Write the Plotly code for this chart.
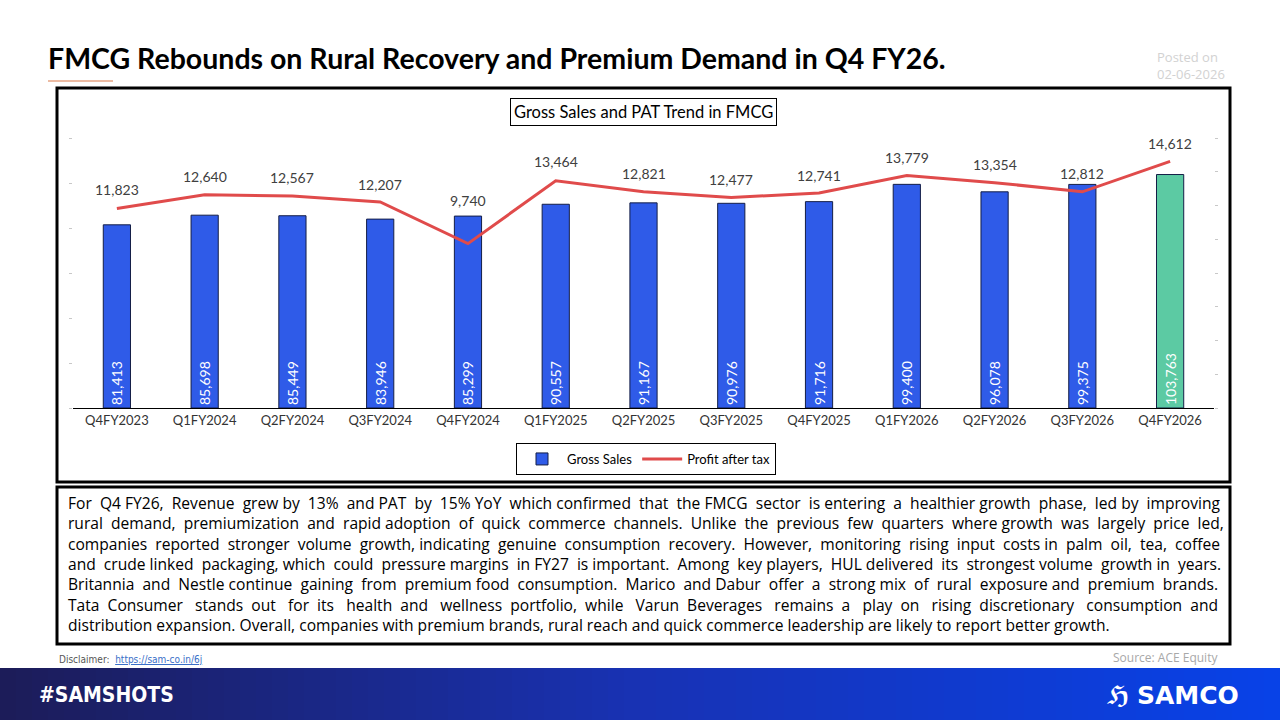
import plotly.graph_objects as go

# ---------------- data ----------------
quarters = ["Q4FY2023", "Q1FY2024", "Q2FY2024", "Q3FY2024", "Q4FY2024", "Q1FY2025",
            "Q2FY2025", "Q3FY2025", "Q4FY2025", "Q1FY2026", "Q2FY2026", "Q3FY2026", "Q4FY2026"]
gross_sales = [81413, 85698, 85449, 83946, 85299, 90557, 91167, 90976, 91716, 99400, 96078, 99375, 103763]
pat = [11823, 12640, 12567, 12207, 9740, 13464, 12821, 12477, 12741, 13779, 13354, 12812, 14612]

title_text = "FMCG Rebounds on Rural Recovery and Premium Demand in Q4 FY26."
chart_title = "Gross Sales and PAT Trend in FMCG"
paragraph_lines = [
    "For Q4 FY26, Revenue grew by 13% and PAT by 15% YoY which confirmed that the FMCG sector is entering a healthier growth phase, led by improving",
    "rural demand, premiumization and rapid adoption of quick commerce channels. Unlike the previous few quarters where growth was largely price led,",
    "companies reported stronger volume growth, indicating genuine consumption recovery. However, monitoring rising input costs in palm oil, tea, coffee",
    "and crude linked packaging, which could pressure margins in FY27 is important. Among key players, HUL delivered its strongest volume growth in years.",
    "Britannia and Nestle continue gaining from premium food consumption. Marico and Dabur offer a strong mix of rural exposure and premium brands.",
    "Tata Consumer stands out for its health and wellness portfolio, while Varun Beverages remains a play on rising discretionary consumption and",
    "distribution expansion. Overall, companies with premium brands, rural reach and quick commerce leadership are likely to report better growth.",
]

# ---------------- styling / layout (pixels) ----------------
W, H = 1280, 720
PL, PR, PT, PB = 73, 1214, 138, 408   # plot area in pixels
# extra room (px) each paragraph line needs to reach the justified right edge
justify_extra_px = [68, 72, 64, 51, 66, 119, 0]
# vertical lift (px) of each PAT label above its point
label_lift = [19, 18, 18, 18, 43, 19, 18, 18, 18, 18, 18, 18, 18]


def px(x):
    return (x - PL) / (PR - PL)


def py(y):
    return (PB - y) / (PB - PT)


def justify(line, extra_px, nbsp_px=4.05):
    words = line.split(" ")
    gaps = len(words) - 1
    n_extra = int(round(extra_px / nbsp_px))
    if gaps <= 0 or n_extra <= 0:
        return line
    out = words[0]
    given = 0
    for i, w in enumerate(words[1:], start=1):
        acc = n_extra * i / gaps
        k = int(round(acc)) - given
        given += k
        out += " " + "\u00a0" * k + w
    return out


FONT = "Lato"
NARROW = "DejaVu Sans Condensed, Liberation Sans Narrow, Roboto Condensed, Roboto, sans-serif"
bar_colors = ["#2f5be8"] * (len(quarters) - 1) + ["#5ccaa3"]

fig = go.Figure()
fig.add_trace(go.Bar(
    x=quarters, y=gross_sales, name="Gross Sales",
    marker=dict(color=bar_colors, line=dict(color="#141e46", width=1)),
    text=[f"{v:,}" for v in gross_sales], textposition="inside",
    insidetextanchor="start", textangle=-90,
    textfont=dict(color="white", size=14, family=FONT),
    width=0.31, yaxis="y",
))
fig.add_trace(go.Scatter(
    x=quarters, y=pat, name="Profit after tax", mode="lines",
    line=dict(color="#e04b4b", width=3), yaxis="y2",
))

shapes = []
# orange underline under title
shapes.append(dict(type="line", xref="paper", yref="paper", x0=px(48), x1=px(113), y0=py(81), y1=py(81),
                   line=dict(color="#e6a584", width=1.5)))
# chart box
shapes.append(dict(type="rect", xref="paper", yref="paper", x0=px(57), x1=px(1230), y0=py(88), y1=py(482),
                   line=dict(color="black", width=3), layer="below"))
# paragraph box
shapes.append(dict(type="rect", xref="paper", yref="paper", x0=px(57), x1=px(1230), y0=py(487), y1=py(644),
                   line=dict(color="black", width=3), layer="below"))

# footer gradient band


def lerp(c1, c2, t):
    return tuple(round(a + (b - a) * t) for a, b in zip(c1, c2))


stops = [(0.0, (28, 28, 88)), (0.5, (24, 50, 180)), (1.0, (8, 66, 232))]
N = 80
for i in range(N):
    t = (i + 0.5) / N
    for j in range(len(stops) - 1):
        if stops[j][0] <= t <= stops[j + 1][0]:
            tt = (t - stops[j][0]) / (stops[j + 1][0] - stops[j][0])
            c = lerp(stops[j][1], stops[j + 1][1], tt)
            break
    x0 = i * W / N
    x1 = (i + 1) * W / N + 1
    shapes.append(dict(type="rect", xref="paper", yref="paper", x0=px(x0), x1=px(x1), y0=py(668), y1=py(721),
                       fillcolor=f"rgb{c}", line=dict(width=0), layer="below"))

annotations = []
# PAT data labels, anchored to the data through the secondary axis
for q, v, lift in zip(quarters, pat, label_lift):
    annotations.append(dict(text=f"{v:,}", x=q, y=v, xref="x", yref="y2", yshift=lift,
                            xanchor="center", yanchor="middle", showarrow=False,
                            font=dict(family=FONT, size=14, color="#404040")))

annotations.append(dict(text=f"<b>{title_text}</b>", xref="paper", yref="paper", x=px(46), y=py(58),
                        xanchor="left", yanchor="middle", showarrow=False,
                        font=dict(family=FONT, size=28.5, color="black")))
annotations.append(dict(text="Posted on<br>02-06-2026", xref="paper", yref="paper", x=px(1227), y=py(65),
                        xanchor="right", yanchor="middle", align="left", showarrow=False,
                        font=dict(family="Open Sans", size=13, color="#d2d2d2")))
annotations.append(dict(text=chart_title, xref="paper", yref="paper", x=px(643), y=py(112),
                        xanchor="center", yanchor="middle", showarrow=False,
                        bordercolor="black", borderwidth=1, borderpad=3, bgcolor="white",
                        font=dict(family=FONT, size=16.5, color="black")))
y0_line = 503
for k, (line, extra) in enumerate(zip(paragraph_lines, justify_extra_px)):
    annotations.append(dict(text=justify(line, extra), xref="paper", yref="paper", x=px(66),
                            y=py(y0_line + k * 20.3),
                            xanchor="left", yanchor="middle", showarrow=False,
                            font=dict(family="Open Sans", size=15.6, color="black")))
annotations.append(dict(text="Disclaimer:  <span style='color:#3a6fc8'><u>https://sam-co.in/6j</u></span>",
                        xref="paper", yref="paper",
                        x=px(57), y=py(659), xanchor="left", yanchor="middle", showarrow=False,
                        font=dict(family=NARROW, size=10, color="#555555")))
annotations.append(dict(text="Source: ACE Equity", xref="paper", yref="paper", x=px(1220), y=py(657),
                        xanchor="right", yanchor="middle", showarrow=False,
                        font=dict(family="Open Sans", size=12, color="#a8a8a8")))
annotations.append(dict(text="<b>#SAMSHOTS</b>", xref="paper", yref="paper", x=px(37), y=py(695),
                        xanchor="left", yanchor="middle", showarrow=False,
                        font=dict(family=NARROW, size=21, color="white")))
annotations.append(dict(text="<b>SAMCO</b>", xref="paper", yref="paper", x=px(1241), y=py(696),
                        xanchor="right", yanchor="middle", showarrow=False,
                        font=dict(family="DejaVu Sans", size=25, color="white")))
annotations.append(dict(text="<b>ℌ</b>", xref="paper", yref="paper", x=px(1132), y=py(696),
                        xanchor="right", yanchor="middle", showarrow=False,
                        font=dict(family="DejaVu Sans", size=25, color="white")))

fig.update_layout(
    width=W, height=H, autosize=False,
    margin=dict(l=PL, r=W - PR, t=PT, b=H - PB),
    paper_bgcolor="white", plot_bgcolor="white",
    font=dict(family=FONT, color="#333333"),
    showlegend=True,
    legend=dict(orientation="h", x=px(646), y=py(459), xanchor="center", yanchor="middle",
                bordercolor="black", borderwidth=1, bgcolor="white",
                font=dict(family=FONT, size=13, color="black"), itemwidth=40),
    xaxis=dict(showgrid=False, showline=True, linecolor="black", linewidth=1, ticks="",
               range=[-0.5, len(quarters) - 0.5],
               tickfont=dict(family=FONT, size=13, color="#333333")),
    yaxis=dict(range=[0, 120000], dtick=20000, showgrid=False, zeroline=False, showticklabels=False,
               ticks="outside", ticklen=3, tickcolor="#c8c8c8"),
    yaxis2=dict(range=[0, 16000], dtick=2000, overlaying="y", side="right", showgrid=False, zeroline=False,
                showticklabels=False, ticks="outside", ticklen=3, tickcolor="#c8c8c8"),
    bargap=0.69,
    shapes=shapes,
    annotations=annotations,
)

fig.write_html("out.html")
